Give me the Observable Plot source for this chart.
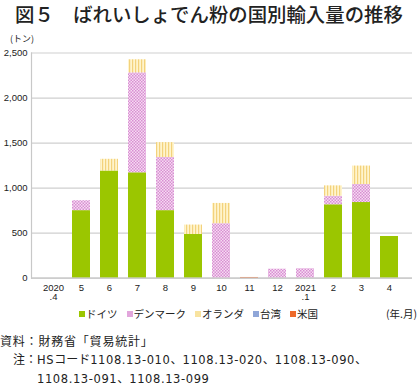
<!DOCTYPE html>
<html><head><meta charset="utf-8">
<script src="https://cdn.jsdelivr.net/npm/d3@7"></script>
<script src="https://cdn.jsdelivr.net/npm/@observablehq/plot@0.6"></script>
<style>
body{margin:0;background:#fff;font-family:"Noto Sans CJK JP",sans-serif;color:#222;}
#wrap{position:relative;width:420px;height:386px;overflow:hidden;}
#title{position:absolute;left:15px;top:0px;font-size:19.4px;font-weight:500;white-space:nowrap;line-height:28px;}
#unit{position:absolute;left:10px;top:32px;font-size:9px;line-height:14px;white-space:nowrap;}
#legend{position:absolute;left:79px;top:305px;font-size:10.5px;display:flex;gap:9px;white-space:nowrap;line-height:17px;}
#legend span.it{display:flex;align-items:center;}
#legend i{display:inline-block;width:6px;height:6px;margin-right:1px;}
#ym{position:absolute;right:3px;top:305px;font-size:10.5px;line-height:17px;white-space:nowrap;}
#cap{position:absolute;left:0;top:332px;font-size:12px;line-height:18px;white-space:nowrap;}
#cap .l1{letter-spacing:0.8px;}
#cap .n{font-family:"DejaVu Sans",sans-serif;font-size:11.5px;letter-spacing:0.6px;}
#chart{position:absolute;left:0;top:0;}
</style></head>
<body><div id="wrap"><div id="chart"></div>
<div id="title">図５　ばれいしょでん粉の国別輸入量の推移</div>
<div id="unit">(トン)</div>
<div id="legend"></div>
<div id="ym">(年.月)</div>
<div id="cap"><span class="l1">資料：財務省「貿易統計」</span><br><span style="padding-left:13px">注：<span class="n">HS</span>コード<span class="n">1108.13-010</span>、<span class="n">1108.13-020</span>、<span class="n">1108.13-090</span>、</span><br><span style="padding-left:37px"><span class="n">1108.13-091</span>、<span class="n">1108.13-099</span></span></div>
</div>
<script>
const months = ["2020\n.4","5","6","7","8","9","10","11","12","2021\n.1","2","3","4"];
const countries = ["ドイツ","デンマーク","オランダ","台湾","米国"];
const germany     = [0,750,1190,1170,750,485,0,0,0,0,815,840,463];
const denmark     = [0,110,0,1110,590,0,605,0,100,105,95,200,0];
const netherlands = [0,0,130,145,165,105,225,0,0,0,115,205,0];
const taiwan      = [0,0,0,0,0,0,0,0,0,0,0,0,0];
const usa         = [0,0,0,0,0,0,0,8,0,0,0,0,0];
const yTicks = [0,500,1000,1500,2000,2500];

const series = [germany, denmark, netherlands, taiwan, usa];
const rows = months.flatMap((m,i)=>countries.map((c,k)=>({month:m,country:c,value:series[k][i]})));
const fills = ["#9bc600","url(#pDk)","url(#pNl)","url(#pTw)","#ee6a2a"];
const legendSwatch = ["#9bc600","#e2a6dc","#f8e3a0","#8fa6d8","#ee6a2a"];
const fmt = d3.format(",d");

const plot = Plot.plot({
  width:420, height:330,
  marginTop:52.5, marginBottom:52.3, marginLeft:31, marginRight:8,
  style:{fontFamily:"'Liberation Sans',Arial,sans-serif", fontSize:"9.5px", color:"#222", background:"transparent"},
  x:{domain:months, padding:0.34, label:null, tickSize:0, tickPadding:6},
  y:{domain:[0,2500], ticks:yTicks, tickFormat:d=>fmt(d), label:null, tickSize:0, tickPadding:4},
  color:{domain:countries, range:fills},
  marks:[
    Plot.gridY(yTicks,{stroke:"#cfcfcf", strokeOpacity:1, strokeWidth:1.2}),
    Plot.barY(rows,{x:"month", y:"value", fill:"country"}),
    Plot.ruleY([0],{stroke:"#c8c8c8", strokeWidth:1.2}),
    Plot.frame({anchor:"left", stroke:"#c8c8c8", strokeWidth:1.2})
  ]
});
const svg = d3.select(plot);
const defs = svg.insert("defs",":first-child");
const dk = defs.append("pattern").attr("id","pDk").attr("patternUnits","userSpaceOnUse").attr("width",3).attr("height",3);
dk.append("rect").attr("width",3).attr("height",3).attr("fill","#f6dcf2");
dk.append("rect").attr("x",0).attr("y",0).attr("width",1.5).attr("height",1.5).attr("fill","#d88fd2");
dk.append("rect").attr("x",1.5).attr("y",1.5).attr("width",1.5).attr("height",1.5).attr("fill","#d88fd2");
const nl = defs.append("pattern").attr("id","pNl").attr("patternUnits","userSpaceOnUse").attr("width",3).attr("height",3);
nl.append("rect").attr("width",3).attr("height",3).attr("fill","#fff4cc");
nl.append("rect").attr("x",0).attr("width",1.2).attr("height",3).attr("fill","#f3d27c");
const tw = defs.append("pattern").attr("id","pTw").attr("patternUnits","userSpaceOnUse").attr("width",3).attr("height",3);
tw.append("rect").attr("width",3).attr("height",3).attr("fill","#dfe6f7");
tw.append("rect").attr("width",1).attr("height",3).attr("fill","#6f8ccc");
tw.append("rect").attr("width",3).attr("height",1).attr("fill","#6f8ccc");
document.getElementById("chart").appendChild(plot);

const lg = document.getElementById("legend");
countries.forEach((c,k)=>{
  const s=document.createElement("span"); s.className="it";
  const i=document.createElement("i"); i.style.background=legendSwatch[k];
  s.appendChild(i); s.appendChild(document.createTextNode(c)); lg.appendChild(s);
});
</script></body></html>
